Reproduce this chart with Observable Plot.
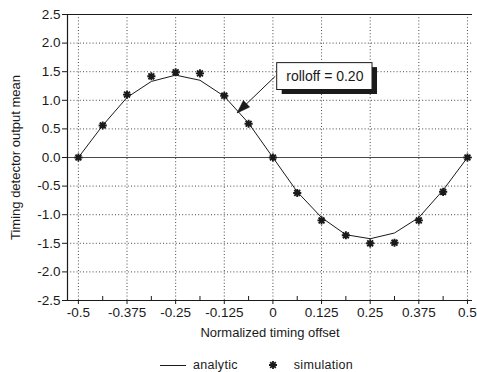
<!DOCTYPE html>
<html>
<head>
<meta charset="utf-8">
<script src="https://cdn.jsdelivr.net/npm/d3@7"></script>
<script src="https://cdn.jsdelivr.net/npm/@observablehq/plot@0.6"></script>
<style>
  body { margin: 0; background: #fff; font-family: "Liberation Sans", Arial, sans-serif; color: #1a1a1a; }
  #legend { display: flex; align-items: center; height: 28px; padding-top: 7px; padding-left: 160px; font-size: 12.5px; letter-spacing: 0.3px; }
  #legend .line { width: 26px; border-top: 1.2px solid #1a1a1a; margin-right: 7px; }
  #legend svg { margin-left: 30px; margin-right: 16px; }
</style>
</head>
<body>
<div id="chart"></div>
<div id="legend">
  <span class="line"></span><span>analytic</span>
  <svg width="10" height="10" viewBox="-5 -5 10 10"><path d="M-4,0H4M0,-4V4M-2.8,-2.8L2.8,2.8M-2.8,2.8L2.8,-2.8" stroke="#1a1a1a" stroke-width="1.8"/></svg>
  <span>simulation</span>
</div>
<script>
// Normalized timing offset at which the detector mean is evaluated
const offsets = [-0.5, -0.4375, -0.375, -0.3125, -0.25, -0.1875, -0.125, -0.0625, 0,
                 0.0625, 0.125, 0.1875, 0.25, 0.3125, 0.375, 0.4375, 0.5];
// Analytic detector characteristic
const analytic = [0, 0.56, 1.05, 1.33, 1.44, 1.35, 1.07, 0.60, 0,
                  -0.60, -1.05, -1.35, -1.42, -1.32, -1.05, -0.57, 0];
// Simulated detector output mean
const simulation = [0, 0.56, 1.10, 1.42, 1.49, 1.47, 1.08, 0.59, 0,
                    -0.62, -1.10, -1.36, -1.50, -1.49, -1.10, -0.60, 0];

const xTicks = [-0.5, -0.375, -0.25, -0.125, 0, 0.125, 0.25, 0.375, 0.5];
const xTickLabels = ["-0.5", "-0.375", "-0.25", "-0.125", "0", "0.125", "0.25", "0.375", "0.5"];
const xMinorTicks = [-0.4375, -0.3125, -0.1875, -0.0625, 0.0625, 0.1875, 0.3125, 0.4375];
const yTicks = [-2.5, -2, -1.5, -1, -0.5, 0, 0.5, 1, 1.5, 2, 2.5];
const yTickLabels = ["-2.5", "-2.0", "-1.5", "-1.0", "-0.5", "0.0", "0.5", "1.0", "1.5", "2.0", "2.5"];

// Annotation: label box and the arrow pointing onto the curve
const note = [{label: "rolloff = 0.20", x: 0.1335, y: 1.415, x1: 0.011, x2: 0.256, y1: 1.18, y2: 1.65,
               ax: 0.006, ay: 1.42, tx: -0.092, ty: 0.78}];

const xDomain = [-0.528, 0.513];
const yDomain = [-2.5, 2.5];

const rows = offsets.map((x, i) => ({x, analytic: analytic[i], simulation: simulation[i]}));

// eight-armed asterisk marker
const star = {
  draw(ctx, size) {
    const r = Math.sqrt(size) / 2, d = r * 0.72;
    ctx.moveTo(-r, 0); ctx.lineTo(r, 0);
    ctx.moveTo(0, -r); ctx.lineTo(0, r);
    ctx.moveTo(-d, -d); ctx.lineTo(d, d);
    ctx.moveTo(-d, d); ctx.lineTo(d, -d);
  }
};
// filled arrowhead, tip at the origin pointing along +x
const head = {
  draw(ctx) {
    ctx.moveTo(0, 0); ctx.lineTo(-13, -4.5); ctx.lineTo(-13, 4.5); ctx.closePath();
  }
};

const ink = "#1a1a1a";
const gridStyle = {stroke: "#333", strokeWidth: 0.9, strokeDasharray: "1,2.2"};

const chart = Plot.plot({
  width: 477,
  height: 344,
  marginTop: 14,
  marginLeft: 67,
  marginRight: 5,
  marginBottom: 44,
  style: {fontFamily: "Liberation Sans, Arial, sans-serif", fontSize: "13px", color: ink, background: "#fff"},
  x: {domain: xDomain},
  y: {domain: yDomain},
  marks: [
    Plot.ruleX(xTicks, gridStyle),
    Plot.ruleY(yTicks.filter(d => d !== 0 && Math.abs(d) !== 2.5), gridStyle),
    Plot.ruleY([0], {stroke: ink, strokeWidth: 0.8}),
    Plot.ruleY([yDomain[1], yDomain[0]], {stroke: ink, strokeWidth: 1.2}),
    Plot.ruleX([xDomain[0]], {stroke: ink, strokeWidth: 1.2}),
    Plot.axisX(xTicks, {tickSize: 4, tickPadding: 3, tickFormat: (d, i) => xTickLabels[i], stroke: ink, fill: ink, fontSize: 13.5, label: null}),
    Plot.axisX(xMinorTicks, {tickSize: 4, dy: -4, text: null, stroke: ink, label: null}),
    Plot.axisY(yTicks, {tickSize: 5, tickPadding: 2, tickFormat: (d, i) => yTickLabels[i], stroke: ink, fill: ink, fontSize: 13.5, label: null}),
    Plot.text(["Normalized timing offset"], {frameAnchor: "bottom", dy: 36, fontSize: 13, fill: ink}),
    Plot.text(["Timing detector output mean"], {frameAnchor: "left", textAnchor: "middle", dx: -52, rotate: -90, fontSize: 13, fill: ink}),
    Plot.line(rows, {x: "x", y: "analytic", stroke: ink, strokeWidth: 1}),
    Plot.dot(rows, {x: "x", y: "simulation", symbol: star, r: 4.6, stroke: ink, strokeWidth: 1.9}),
    // annotation box with drop shadow
    Plot.rect(note, {x1: "x1", x2: "x2", y1: "y1", y2: "y2", fill: ink, dx: 5, dy: 4.5}),
    Plot.rect(note, {x1: "x1", x2: "x2", y1: "y1", y2: "y2", fill: "#fff", stroke: ink, strokeWidth: 1}),
    Plot.text(note, {x: "x", y: "y", text: "label", fontSize: 14, fill: ink}),
    Plot.link(note, {x1: "ax", y1: "ay", x2: "tx", y2: "ty", stroke: ink, strokeWidth: 1}),
    Plot.dot(note, {x: "tx", y: "ty", symbol: head, r: 5, fill: ink, stroke: ink, strokeWidth: 0.6, rotate: 136})
  ]
});
document.getElementById("chart").appendChild(chart);
</script>
</body>
</html>
